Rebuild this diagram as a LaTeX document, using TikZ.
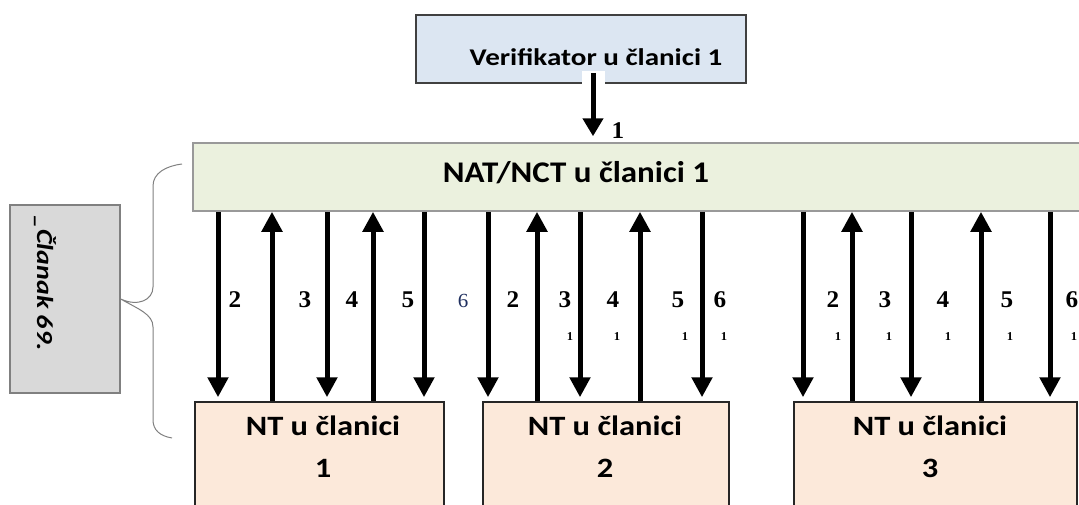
\documentclass[tikz,border=0pt]{standalone}
\usepackage{fontspec}
\setmainfont{Carlito}
\newfontfamily\verfont[FakeStretch=1.21]{Carlito}
\newfontfamily\natfont[FakeStretch=1.1]{Carlito}
\newfontfamily\ntfont[FakeStretch=1.16]{Carlito}
\newfontfamily\clfont[FakeStretch=1.22]{Carlito}
\newfontfamily\numfont[FakeStretch=1.05]{Liberation Serif}
\usetikzlibrary{arrows.meta}
\definecolor{verfill}{HTML}{DCE6F2}
\definecolor{natfill}{HTML}{EBF1DE}
\definecolor{ntfill}{HTML}{FCE9DA}
\definecolor{grayfill}{HTML}{D9D9D9}
\definecolor{navy}{HTML}{1F2F5F}
\begin{document}
\begin{tikzpicture}[x=1pt,y=-1pt,
  box/.style={draw, line width=1.5pt, inner sep=0pt},
  boxtxt/.style={inner sep=0pt},
  dn/.style={line width=5pt, -{Triangle[width=20pt,length=20pt]}},
  lbl/.style={inner sep=0pt, font=\numfont\bfseries\fontsize{24}{24}\selectfont},
  lblsix/.style={inner sep=0pt, text=navy, font=\numfont\fontsize{20}{20}\selectfont},
  sub/.style={inner sep=0pt, font=\numfont\bfseries\fontsize{12}{12}\selectfont},
  brace/.style={draw=gray, line width=1pt}]
\useasboundingbox (0,0) rectangle (1079,504);
\clip (0,0) rectangle (1079,504);

% top box
\node[box, draw=black!75, fill=verfill, minimum width=330pt, minimum height=68pt] (verif) at (581,49) {};
\node[boxtxt, anchor=base, font=\verfont\bfseries\fontsize{24}{28}\selectfont] (veriftxt) at (596,65) {Verifikator u članici 1};

% NAT box
\node[box, draw=black!40, fill=natfill, minimum width=897pt, minimum height=68pt] (nat) at (641.5,177) {};
\node[boxtxt, anchor=base, font=\natfont\bfseries\fontsize{30}{34}\selectfont] (nattxt) at (576,182) {NAT/NCT u članici 1};

% gray box
\node[box, draw=black!50, fill=grayfill, minimum width=110pt, minimum height=188pt] (clanak) at (65,299) {};
\node[boxtxt, rotate=-90, font=\clfont\bfseries\itshape\fontsize{23}{27}\selectfont] (clanaktxt) at (45,283) {\_Članak 69.};

% brace
\path[brace] (182,164) .. controls (166,166) and (153,173) .. (153,186) -- (153,287)
  .. controls (153,300) and (138,307) .. (clanak.east)
  .. controls (138,309) and (153,314) .. (153,327) -- (153,420)
  .. controls (153,430) and (160,436) .. (172,438);

% NT boxes
\node[box, draw=black!85, fill=ntfill, minimum width=249pt, minimum height=118pt] (nt1) at (319.5,461) {};
\node[box, draw=black!85, fill=ntfill, minimum width=246pt, minimum height=118pt] (nt2) at (606,461) {};
\node[box, draw=black!85, fill=ntfill, minimum width=283pt, minimum height=118pt] (nt3) at (935.5,461) {};
\foreach \n/\x in {1/323,2/605,3/930} {
  \node[boxtxt, anchor=base, font=\ntfont\bfseries\fontsize{28}{32}\selectfont] (nt\n txt) at (\x,435) {NT u članici};
  \node[boxtxt, anchor=base, font=\ntfont\bfseries\fontsize{28}{32}\selectfont] (nt\n num) at (\x,477) {\n};
}

% arrow 1
\coordinate (c1) at (593,0);
\fill[white] (582,71) rectangle (605,84.5);
\draw[dn, -{Triangle[width=20pt,length=18pt]}] ([yshift=11pt]c1 |- verif.south) -- ([yshift=6pt]c1 |- nat.north);
\node[lbl, anchor=base] (l1) at (618,138) {1};

% group 1
\foreach \x/\n in {218/a,272/b,327/c,373/d,424/e} {\coordinate (g1\n) at (\x,0);}
\draw[dn] (g1a |- nat.south) -- ([yshift=4pt]g1a |- nt1.north);
\draw[dn] (g1b |- nt1.north) -- (g1b |- nat.south);
\draw[dn] (g1c |- nat.south) -- ([yshift=4pt]g1c |- nt1.north);
\draw[dn] (g1d |- nt1.north) -- (g1d |- nat.south);
\draw[dn] (g1e |- nat.south) -- ([yshift=4pt]g1e |- nt1.north);
% group 2
\foreach \x/\n in {488/a,537/b,580/c,640/d,702/e} {\coordinate (g2\n) at (\x,0);}
\draw[dn] (g2a |- nat.south) -- ([yshift=4pt]g2a |- nt2.north);
\draw[dn] (g2b |- nt2.north) -- (g2b |- nat.south);
\draw[dn] (g2c |- nat.south) -- ([yshift=4pt]g2c |- nt2.north);
\draw[dn] (g2d |- nt2.north) -- (g2d |- nat.south);
\draw[dn] (g2e |- nat.south) -- ([yshift=4pt]g2e |- nt2.north);
% group 3
\foreach \x/\n in {803/a,852/b,911/c,981/d,1050/e} {\coordinate (g3\n) at (\x,0);}
\draw[dn] (g3a |- nat.south) -- ([yshift=4pt]g3a |- nt3.north);
\draw[dn] (g3b |- nt3.north) -- (g3b |- nat.south);
\draw[dn] (g3c |- nat.south) -- ([yshift=4pt]g3c |- nt3.north);
\draw[dn] (g3d |- nt3.north) -- (g3d |- nat.south);
\draw[dn] (g3e |- nat.south) -- ([yshift=4pt]g3e |- nt3.north);

% labels
\node[lbl] (n12) at (235,300) {2};
\node[lbl] (n13) at (305,300) {3};
\node[lbl] (n14) at (352,300) {4};
\node[lbl] (n15) at (408,300) {5};
\node[lblsix] (n16) at (463,301) {6};
\node[lbl] (n22) at (513,300) {2};
\node[lbl] (n23) at (565,300) {3};
\node[lbl] (n24) at (613,300) {4};
\node[lbl] (n25) at (678,300) {5};
\node[lbl] (n26) at (720,300) {6};
\node[lbl] (n32) at (833,300) {2};
\node[lbl] (n33) at (885,300) {3};
\node[lbl] (n34) at (943,300) {4};
\node[lbl] (n35) at (1007,300) {5};
\node[lbl] (n36) at (1072,300) {6};
\foreach \x/\n in {570/a,617/b,685/c,724/d,838/e,889/f,948/g,1010/h,1074/i} {\node[sub] (s\n) at (\x,337) {1};}
\end{tikzpicture}
\end{document}
